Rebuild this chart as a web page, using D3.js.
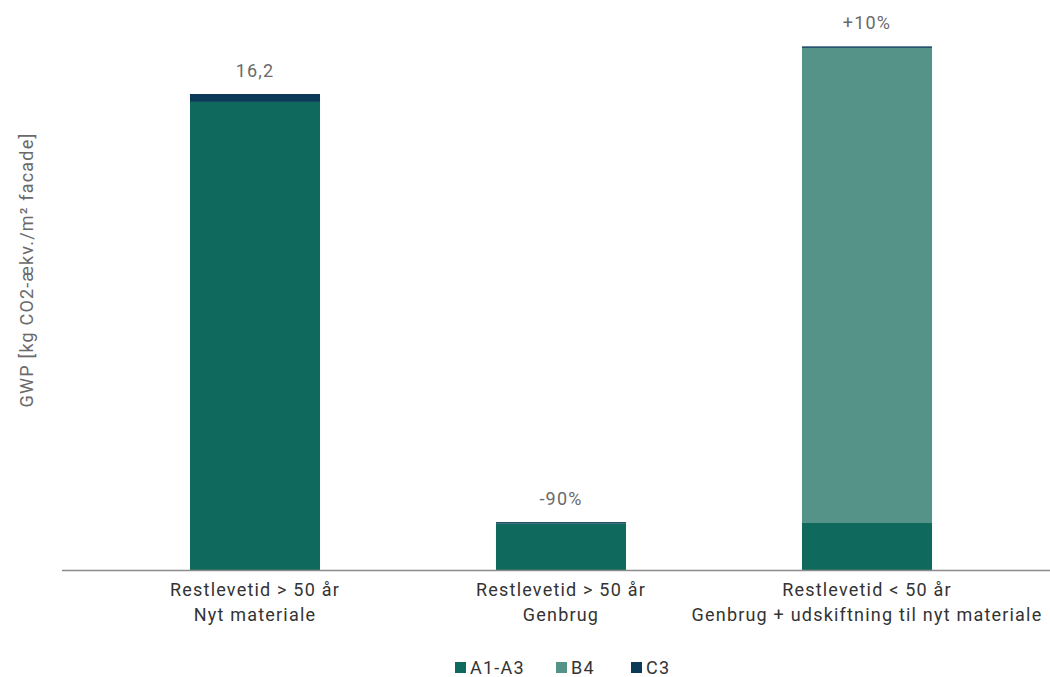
<!DOCTYPE html>
<html>
<head>
<meta charset="utf-8">
<script src="https://cdn.jsdelivr.net/npm/d3@7"></script>
<style>
  html, body { margin: 0; padding: 0; background: #fff; }
  svg { display: block; font-family: "Roboto", "DejaVu Sans", sans-serif; }
</style>
</head>
<body>
<svg id="chart" width="1050" height="677"></svg>
<script>
// Scenarios (two-line category labels)
const categories = [
  ["Restlevetid > 50 år", "Nyt materiale"],
  ["Restlevetid > 50 år", "Genbrug"],
  ["Restlevetid < 50 år", "Genbrug + udskiftning til nyt materiale"]
];
const seriesNames = ["A1-A3", "B4", "C3"];
// GWP per stage, kg CO2-ækv./m² facade
const a1a3 = [15.93, 1.58, 1.60];
const b4   = [0.00, 0.00, 16.17];
const c3   = [0.27, 0.05, 0.05];
const topLabels = ["16,2", "-90%", "+10%"];
const yLabel = "GWP [kg CO2-ækv./m² facade]";
const colors = ["#0f6a5d", "#559388", "#0b3a58"];

const svg = d3.select("#chart");
const baseY = 570;
const ls = "1.2px";

const rows = categories.map((c, i) => ({ i, "A1-A3": a1a3[i], "B4": b4[i], "C3": c3[i] }));
const stacked = d3.stack().keys(seriesNames)(rows);

const x = d3.scaleBand()
  .domain(categories.map((d, i) => i))
  .range([102, 1020])
  .paddingInner(0.575)
  .paddingOuter(0.2875);

const y = d3.scaleLinear().domain([0, 16.2]).range([baseY, 94]);

// Stacked bars
svg.append("g").selectAll("g")
  .data(stacked)
  .join("g")
  .attr("fill", (d, k) => colors[k])
  .selectAll("rect")
  .data(d => d)
  .join("rect")
  .attr("x", d => x(d.data.i))
  .attr("width", x.bandwidth())
  .attr("y", d => y(d[1]))
  .attr("height", d => Math.max(0, y(d[0]) - y(d[1])));

// Value / change labels above each bar
const totals = rows.map((r, i) => a1a3[i] + b4[i] + c3[i]);
svg.append("g").selectAll("text")
  .data(topLabels)
  .join("text")
  .attr("x", (d, i) => x(i) + x.bandwidth() / 2)
  .attr("y", (d, i) => y(totals[i]) - 17)
  .attr("text-anchor", "middle")
  .attr("font-size", 18)
  .attr("letter-spacing", ls)
  .attr("fill", "#6a6a6a")
  .text(d => d);

// Baseline
svg.append("line")
  .attr("x1", 62).attr("x2", 1050)
  .attr("y1", baseY + 0.5).attr("y2", baseY + 0.5)
  .attr("stroke", "#8c8c8c").attr("stroke-width", 1.3);

// Category labels
const xAxis = svg.append("g");
categories.forEach((lines, i) => {
  const cx = x(i) + x.bandwidth() / 2;
  const t = xAxis.append("text")
    .attr("x", cx)
    .attr("y", 596)
    .attr("text-anchor", "middle")
    .attr("font-size", 18)
    .attr("letter-spacing", ls)
    .attr("fill", "#333333");
  lines.forEach((ln, j) => {
    t.append("tspan")
      .attr("x", cx)
      .attr("dy", j === 0 ? 0 : 25)
      .text(ln);
  });
});

// Y-axis title
svg.append("text")
  .attr("transform", "translate(33,270) rotate(-90)")
  .attr("text-anchor", "middle")
  .attr("font-size", 18)
  .attr("letter-spacing", ls)
  .attr("fill", "#6a6a6a")
  .text(yLabel);

// Legend
const legendX = [455, 556, 631];
const legend = svg.append("g").selectAll("g")
  .data(seriesNames)
  .join("g")
  .attr("transform", (d, i) => `translate(${legendX[i]},668)`);
legend.append("rect")
  .attr("x", 0).attr("y", -6).attr("width", 11).attr("height", 11)
  .attr("fill", (d, i) => colors[i]);
legend.append("text")
  .attr("x", 15).attr("y", 6)
  .attr("font-size", 18)
  .attr("letter-spacing", ls)
  .attr("fill", "#333333")
  .text(d => d);
</script>
</body>
</html>
